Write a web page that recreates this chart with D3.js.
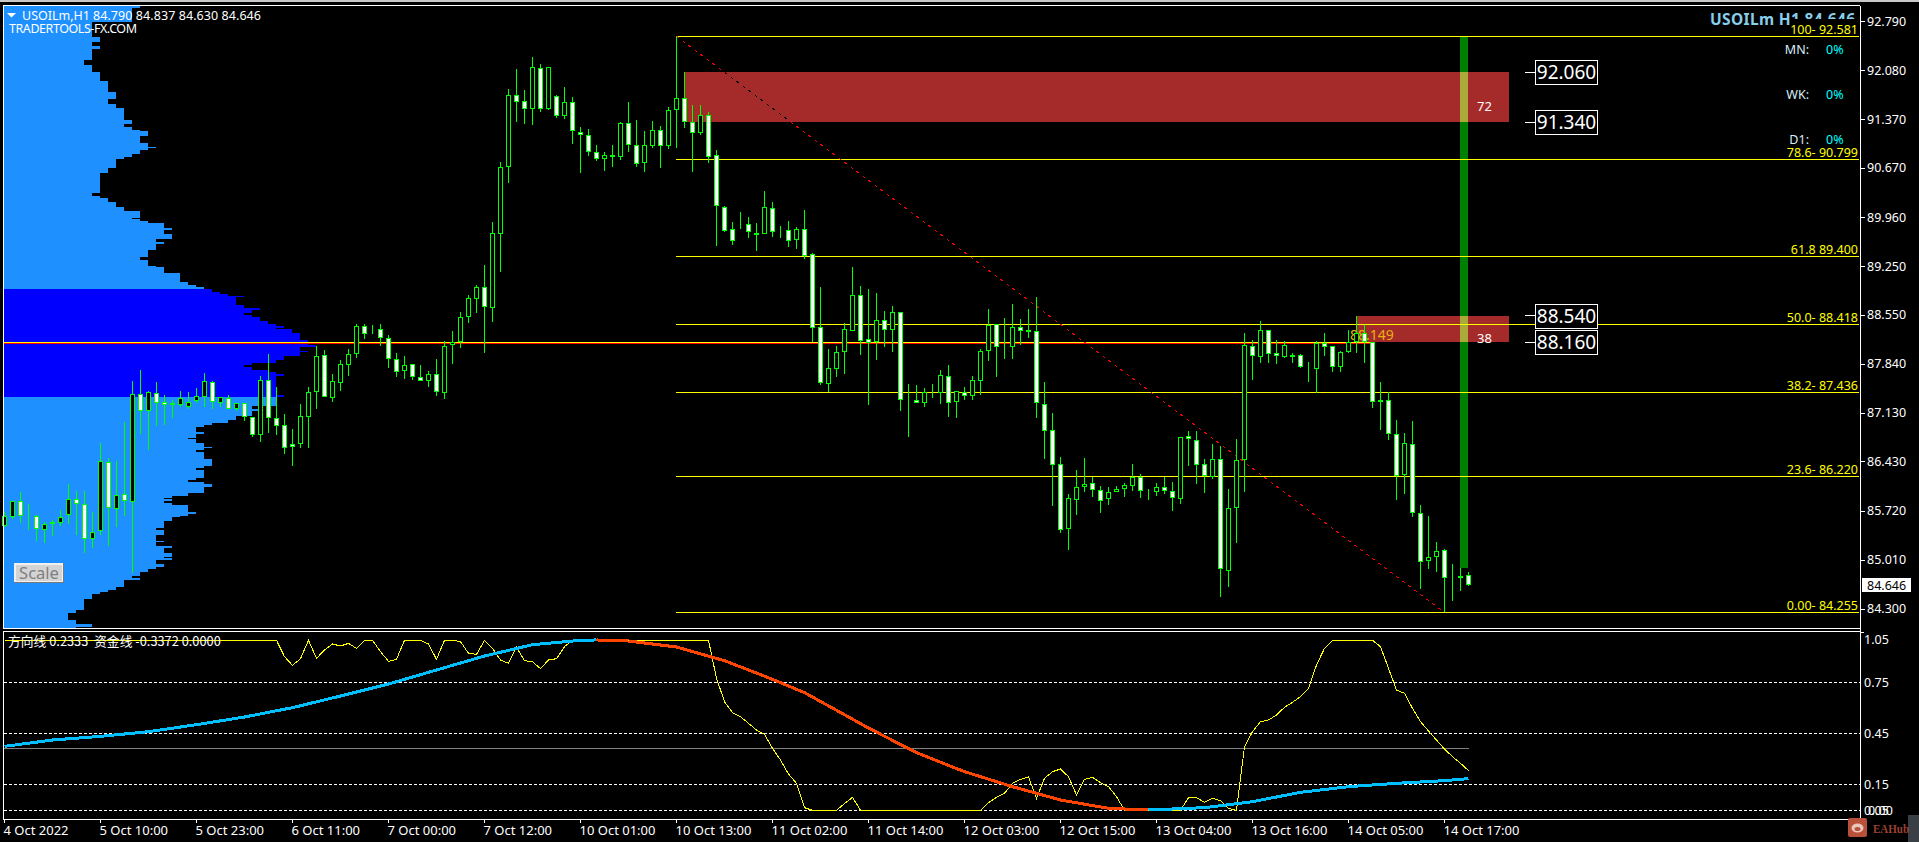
<!DOCTYPE html>
<html>
<head>
<meta charset="utf-8">
<style>
html,body{margin:0;padding:0;background:#000;overflow:hidden}
svg{display:block}
text{font-family:"Noto Sans",sans-serif;fill:#fff}
</style>
<script src="https://cdn.jsdelivr.net/npm/d3@7"></script>
</head>
<body>
<svg id="chart" width="1919" height="842"></svg>
<script>
const opens=[
85.507,85.627,85.859,85.651,85.651,85.439,85.555,85.541,85.656,85.897,
85.815,85.319,85.425,86.432,85.753,85.969,85.844,87.405,87.169,87.419,
87.289,87.275,87.251,87.227,87.304,87.371,87.578,87.284,87.357,87.198,
87.275,87.072,86.822,87.607,87.058,86.957,86.682,86.692,87.082,87.443,
87.968,87.357,87.573,87.833,87.992,88.387,88.339,88.344,88.214,87.911,
87.747,87.839,87.660,87.602,87.694,87.429,88.113,88.166,88.527,88.778,
88.951,88.648,89.717,90.685,91.735,91.639,91.524,92.116,91.533,91.711,
91.422,91.625,91.201,91.148,90.902,90.801,90.859,90.830,91.321,91.003,
90.743,90.998,91.220,90.989,91.509,91.683,91.336,91.177,91.437,90.859,
90.107,89.789,89.886,89.871,89.732,89.717,90.093,89.770,89.775,89.630,
89.790,89.428,88.373,87.559,87.776,88.012,88.325,88.836,88.200,88.157,
88.475,88.340,88.590,87.323,87.319,87.285,87.444,87.429,87.665,87.299,
87.434,87.386,87.603,88.027,88.417,88.104,88.094,88.373,88.330,88.316,
87.261,86.885,86.394,85.454,85.883,86.061,86.119,86.018,85.897,85.989,
86.032,86.076,86.206,85.999,85.989,86.061,86.004,85.888,86.798,86.740,
86.393,86.215,86.465,84.847,85.757,86.451,88.098,87.939,88.330,87.997,
87.939,87.939,87.968,87.785,87.766,88.142,88.098,87.795,88.012,88.156,
88.286,88.156,87.318,87.318,86.827,86.234,86.682,85.685,84.991,85.049,
85.150,84.755,84.746,84.790];
const highs=[
85.709,85.868,85.993,85.820,85.661,85.555,85.589,85.733,86.109,86.008,
86.008,85.704,86.697,86.480,86.437,87.010,87.597,87.756,87.458,87.583,
87.395,87.323,87.453,87.438,87.496,87.713,87.597,87.371,87.395,87.275,
87.275,87.082,87.670,87.988,87.506,87.121,86.899,87.265,87.506,88.103,
88.045,87.699,87.901,88.055,88.421,88.421,88.407,88.421,88.262,87.997,
87.959,87.839,87.829,87.742,87.916,88.171,88.320,88.590,88.836,88.980,
89.274,89.895,90.762,91.817,92.106,91.803,92.280,92.179,92.130,91.731,
91.846,91.702,91.263,91.239,91.008,90.907,91.008,91.340,91.630,91.369,
91.210,91.355,91.283,91.552,92.581,92.063,91.586,91.586,91.485,90.936,
90.127,89.895,90.040,89.968,89.881,90.343,90.184,89.838,89.910,89.823,
90.069,89.443,88.956,88.060,88.104,88.431,89.245,88.971,88.927,88.870,
88.609,88.682,88.590,87.555,87.540,87.497,87.555,87.757,87.829,87.449,
87.511,87.670,88.060,88.638,88.417,88.508,88.711,88.494,88.638,88.812,
87.583,87.135,86.500,85.965,86.312,86.485,86.211,86.076,86.066,86.076,
86.124,86.398,86.249,86.032,86.119,86.211,86.134,86.784,86.875,86.875,
86.470,86.692,86.658,86.037,86.759,88.291,88.190,88.465,88.330,88.190,
88.175,88.002,87.983,87.872,88.171,88.291,88.098,88.026,88.334,88.537,
88.407,88.156,87.583,87.434,87.034,86.846,87.019,85.805,85.647,85.271,
85.165,84.953,84.890,84.837];
const lows=[
85.492,85.603,85.550,85.444,85.290,85.261,85.358,85.502,85.531,85.372,
85.117,85.189,85.372,85.218,85.492,85.647,84.818,86.832,86.600,86.947,
86.962,87.068,87.227,87.193,87.275,87.217,87.193,87.217,87.188,87.164,
87.024,86.793,86.721,86.851,86.817,86.543,86.374,86.634,86.634,87.193,
87.371,87.299,87.453,87.670,87.930,88.204,88.277,88.108,87.790,87.660,
87.631,87.612,87.602,87.516,87.386,87.342,87.843,88.079,88.441,88.580,
88.007,88.455,89.178,90.464,91.345,91.316,91.302,91.490,91.514,91.403,
91.389,91.027,90.608,90.854,90.777,90.637,90.695,90.796,90.912,90.695,
90.623,90.970,90.681,90.955,90.970,91.259,90.623,91.157,90.753,89.553,
89.756,89.568,89.794,89.664,89.481,89.717,89.679,89.664,89.534,89.505,
89.361,88.157,87.545,87.439,87.661,87.699,88.325,87.974,87.256,87.901,
88.089,88.017,87.169,86.793,87.275,87.227,87.352,87.270,87.083,87.068,
87.328,87.328,87.400,87.887,87.661,87.916,87.916,88.118,88.219,87.068,
86.471,85.796,85.406,85.161,85.666,85.999,85.926,85.695,85.811,85.989,
85.926,86.013,85.912,85.883,85.941,85.970,85.724,85.825,86.374,86.114,
85.974,86.186,84.481,84.625,85.261,85.998,87.617,87.862,87.862,87.848,
87.925,87.862,87.790,87.588,87.429,87.964,87.732,87.732,87.997,87.997,
87.853,87.212,86.894,86.750,85.883,85.969,85.637,84.596,84.885,84.842,
84.255,84.423,84.568,84.630];
const closes=[
85.651,85.859,85.651,85.632,85.454,85.526,85.526,85.637,85.897,85.815,
85.309,85.420,86.446,85.757,85.955,85.859,87.405,87.159,87.434,87.275,
87.255,87.255,87.347,87.299,87.376,87.593,87.289,87.361,87.198,87.275,
87.082,86.822,87.607,87.058,86.952,86.634,86.648,87.087,87.434,87.954,
87.371,87.593,87.838,87.983,88.387,88.281,88.320,88.214,87.911,87.732,
87.824,87.660,87.602,87.694,87.444,88.099,88.166,88.518,88.792,88.951,
88.662,89.732,90.685,91.726,91.625,91.524,92.130,91.524,92.130,91.422,
91.625,91.206,91.148,90.902,90.801,90.859,90.830,91.321,91.003,90.729,
91.003,91.220,90.989,91.509,91.683,91.336,91.177,91.437,90.840,90.122,
89.770,89.616,89.866,89.746,89.712,90.107,89.746,89.751,89.626,89.789,
89.409,88.359,87.574,87.781,88.012,88.345,88.836,88.181,88.142,88.475,
88.330,88.590,87.328,87.304,87.275,87.434,87.425,87.680,87.285,87.449,
87.386,87.608,88.027,88.402,88.084,88.084,88.373,88.325,88.311,87.275,
86.871,86.379,85.440,85.902,86.061,86.105,86.018,85.859,85.989,86.032,
86.090,86.206,86.004,85.979,86.061,86.004,85.902,86.784,86.755,86.379,
86.220,86.465,84.876,85.757,86.451,88.113,87.954,88.330,87.983,87.954,
88.113,87.968,87.795,87.766,88.142,88.084,87.795,88.012,88.156,88.286,
88.156,87.289,87.299,86.827,86.220,86.697,85.685,84.977,85.049,85.136,
84.746,84.736,84.775,84.646];

const priceTicks=[92.79,92.08,91.37,90.67,89.96,89.25,88.55,87.84,87.13,86.43,85.72,85.01,84.3];
const dateBars=[0,12,24,36,48,60,72,84,96,108,120,132,144,156,168,180];
const dateLabels=["4 Oct 2022","5 Oct 10:00","5 Oct 23:00","6 Oct 11:00","7 Oct 00:00","7 Oct 12:00","10 Oct 01:00","10 Oct 13:00","11 Oct 02:00","11 Oct 14:00","12 Oct 03:00","12 Oct 15:00","13 Oct 04:00","13 Oct 16:00","14 Oct 05:00","14 Oct 17:00"];

const fibValues=[92.581,90.799,89.400,88.418,87.436,86.220,84.255];
const fibLabels=["100- 92.581","78.6- 90.799","61.8 89.400","50.0- 88.418","38.2- 87.436","23.6- 86.220","0.00- 84.255"];
const zonePrices=[[92.06,91.34],[88.54,88.16]];
const zoneStartBars=[85,169];
const zoneCounts=["72","38"];
const boxLabels=[92.06,91.34,88.54,88.16];
const pocPrice=88.149;
const greenBarBottom=84.897;
const timeframeNames=["MN:","WK:","D1:"];
const timeframeValues=["0%","0%","0%"];

/* volume profile, top to bottom: row height in ticks, and row count */
const profileSpans=[3,14,15,5,4,3,11,5,7,9,11,7,5,4,12,4,3,3,1,5,7,4,1,2,4,3,2,9,5,20,3,2,4,5,4,7,1,2,2,5,2,4,5,3,2,6,7,3,6,1,6,9,3,2,2,
3,2,2,1,8,3,2,3,2,2,4,3,2,2,1,4,7,5,2,4,1,4,4,3,2,2,3,2,2,2,19,2,
9,3,2,5,4,3,2,2,5,2,4,1,4,4,1,2,2,7,7,2,2,8,2,2,2,3,6,3,2,1,2,2,2,7,2,2,1,4,7,2,5,6,1,4,2,5,4,1,2,4,3,2,3,4,2,2,7,3,2,2,5,11,3,7,4,3,1];
const profileCounts=[17,16,11,12,11,12,11,10,11,12,13,14,13,14,15,16,15,16,17,18,17,18,19,18,17,16,15,14,13,12,11,12,13,14,15,17,16,17,18,20,21,20,21,19,20,19,18,17,18,19,20,22,23,24,25,
26,27,28,30,29,30,32,31,30,31,32,33,34,35,34,36,37,38,39,37,38,37,35,34,31,30,31,33,34,35,34,35,
34,31,32,31,29,28,26,25,24,25,24,23,24,25,26,25,24,25,26,25,24,25,24,23,25,26,25,23,21,20,21,20,21,23,24,23,22,21,20,19,20,19,20,19,21,20,21,20,21,19,20,19,18,17,16,17,15,14,13,12,11,10,9,8,9,11,9];
const profileTop=93.031, profileTick=1/69.21;
const valueAreaHigh=88.927, valueAreaLow=87.367;

/* indicator pane */
const directionBars=[0,34,35,36,37,38,39,40,41,42,43,44,45,46,47,48,49,50,52,53,54,55,56,57,58,59,60,61,62,63,64,65,66,67,68,69,70,71,88,89,90,91,92,93,94,95,96,97,98,99,100,101,104,105,106,107,122,123,124,125,126,127,128,129,130,131,132,133,134,135,136,137,138,139,140,147,148,149,150,151,152,153,154,155,156,157,158,159,160,161,162,163,164,165,166,171,172,173,174,175,176,177,178,179,180,181,182,183];
const directionValues=[1,1,.9037,.8527,.8919,1,.8939,.9429,.9782,.9665,.9821,.9527,1,1,.9331,.8763,.888,1,1,.9782,.888,1,1,.9919,.9233,.9174,1,.9527,.8841,.8645,.9586,.8802,.8743,.8331,.8841,.8919,.9625,1,1,.7763,.639,.5743,.5508,.5116,.4723,.4469,.3645,.2959,.2135,.1586,.0155,0,0,.039,.0763,0,0,.0449,.0763,.1,.1586,.1821,.1959,.0704,.188,.2272,.2429,.1978,.09,.1821,.1939,.1625,.139,.0802,0,0,.0743,.0743,.0469,.0704,.0567,.0116,0,.3743,.4625,.5214,.5312,.5606,.6057,.6351,.6684,.7174,.8547,.9527,1,1,.9625,.8351,.7076,.688,.5998,.5214,.4665,.4135,.3606,.3155,.2763,.2333];
const flowBars=[0,6,12,18,24,30,36,42,48,54,60,66,72,74,78,84,90,96,100,105,108,114,120,126,132,138,143,150,156,162,168,174,180,183];
const flowValues=[.376,.4135,.435,.4625,.5037,.5488,.6037,.6723,.7429,.8253,.9076,.9743,1,1.002,.9959,.9606,.8802,.7704,.692,.5625,.4841,.339,.2272,.139,.0606,.0116,.0018,.0155,.0508,.1057,.139,.1586,.1743,.1861];
const grayLevel=.365;
const subLevels=[.75,.45,.15,0];

const svg=d3.select("#chart");
const x=d3.scaleLinear().domain([0,183]).range([4.5,1468.5]);
const y=d3.scaleLinear().domain([84.3,92.79]).range([609.3,21.7]);
const sub=d3.scaleLinear().domain([0,1]).range([810.3,640.3]);
const px=d3.scaleLinear().domain([0,1]).range([4,12]);
const row=v=>Math.round(y(v));
const lineY=v=>Math.floor(y(v))+.5;
const crisp="crispEdges";

/* window chrome */
svg.append("rect").attr("x",0).attr("y",0).attr("width",1919).attr("height",2).attr("fill","#c8c8c8");
svg.append("rect").attr("x",1908).attr("y",815).attr("width",11).attr("height",27).attr("fill","#3a3f45");

/* volume profile */
const gProfile=svg.append("g").attr("shape-rendering",crisp);
let edge=profileTop;
profileSpans.forEach((s,i)=>{
  const bottom=edge-s*profileTick, mid=(edge+bottom)/2;
  gProfile.append("rect").attr("x",px(0)).attr("width",px(profileCounts[i])-px(0))
    .attr("y",row(edge)).attr("height",Math.max(row(bottom)-row(edge),1))
    .attr("fill",(mid<=valueAreaHigh&&mid>=valueAreaLow)?"#0000ff":"#1e90ff");
  edge=bottom;
});

/* zones */
const zoneRight=x(188);
const gZones=svg.append("g").attr("shape-rendering",crisp);
zonePrices.forEach((z,i)=>{
  gZones.append("rect").attr("x",x(zoneStartBars[i])).attr("width",zoneRight-x(zoneStartBars[i]))
    .attr("y",y(z[0])).attr("height",y(z[1])-y(z[0])).attr("fill","#a52a2a");
});
/* green bar */
const gbL=x(182)-.5,gbR=gbL+8;
gZones.append("rect").attr("x",gbL).attr("width",gbR-gbL).attr("y",y(fibValues[0])).attr("height",y(greenBarBottom)-y(fibValues[0])).attr("fill","#008000");
zonePrices.forEach(z=>{
  gZones.append("rect").attr("x",gbL).attr("width",gbR-gbL).attr("y",y(z[0])).attr("height",y(z[1])-y(z[0])).attr("fill","#aaaa3a");
});

/* fib lines */
const fibLeft=x(84)-.5, fibRight=1859;
const gFib=svg.append("g");
fibValues.forEach((v,i)=>{
  gFib.append("line").attr("x1",fibLeft).attr("x2",fibRight).attr("y1",lineY(v)).attr("y2",lineY(v)).attr("stroke","#ffff00").attr("shape-rendering",crisp);
  if(i===0){
    svg.append("text").attr("x",1855).attr("y",25).attr("text-anchor","end").attr("font-weight",700).attr("font-size",15.5).style("fill","#87ceeb").attr("textLength",145).text("USOILm H1 84.646");
    svg.append("rect").attr("x",1794).attr("y",19).attr("width",65).attr("height",17).attr("fill","#000");
  }
  svg.append("text").attr("x",1858).attr("y",lineY(v)-3).attr("text-anchor","end").attr("font-size",12.5).style("fill","#ffff00").text(fibLabels[i]);
});

/* POC line */
const pocEnd=x(171)-.5;
svg.append("line").attr("x1",4).attr("x2",pocEnd).attr("y1",row(pocPrice)+.5).attr("y2",row(pocPrice)+.5).attr("stroke","#ff0000").attr("shape-rendering",crisp);
svg.append("line").attr("x1",4).attr("x2",pocEnd).attr("y1",row(pocPrice)-.5).attr("y2",row(pocPrice)-.5).attr("stroke","#ffff00").attr("shape-rendering",crisp);
svg.append("text").attr("x",1350).attr("y",340).attr("font-size",14).style("fill","#e8b010").text("88.149");

/* diagonal */
const diag=[[84,fibValues[0]],[180,fibValues[6]]];
const diagLine=d3.line().x(d=>x(d[0])).y(d=>y(d[1]));
svg.append("path").attr("d",diagLine(diag)).attr("stroke","#ff0000").attr("fill","none").attr("stroke-dasharray","3,4.5").attr("shape-rendering",crisp);
svg.append("clipPath").attr("id","zoneClip").append("rect").attr("x",725).attr("y",y(zonePrices[0][0])).attr("width",62).attr("height",y(zonePrices[0][1])-y(zonePrices[0][0]));
svg.append("path").attr("d",diagLine(diag)).attr("stroke","#000").attr("fill","none").attr("stroke-dasharray","3,4.5").attr("shape-rendering",crisp).attr("clip-path","url(#zoneClip)");

/* candles */
const gC=svg.append("g").attr("shape-rendering",crisp);
opens.forEach((o,i)=>{
  const c=closes[i], cx=x(i);
  gC.append("line").attr("x1",cx).attr("x2",cx).attr("y1",row(highs[i])).attr("y2",row(lows[i])).attr("stroke","#00ff00");
  const t=row(Math.max(o,c)), b=row(Math.min(o,c));
  gC.append("rect").attr("x",cx-2).attr("width",4).attr("y",t+.5).attr("height",Math.max(b-t-1,0))
    .attr("fill",c<o?"#ffffff":"#000000").attr("stroke","#00ff00");
});

/* boxed levels */
boxLabels.forEach(v=>{
  const cy=y(v);
  svg.append("line").attr("x1",1525).attr("x2",1535).attr("y1",Math.floor(cy)+.5).attr("y2",Math.floor(cy)+.5).attr("stroke","#fff").attr("shape-rendering",crisp);
  svg.append("rect").attr("x",1535.5).attr("y",Math.round(cy)-11.5).attr("width",62).attr("height",24).attr("fill","#000").attr("stroke","#fff").attr("shape-rendering",crisp);
  svg.append("text").attr("x",1566.5).attr("y",Math.round(cy)+7).attr("text-anchor","middle").attr("font-size",19).text(d3.format(".3f")(v));
});
zoneCounts.forEach((t,i)=>{
  svg.append("text").attr("x",1484.5).attr("y",y(zonePrices[i][1])+(i?1:-11)).attr("text-anchor","middle").attr("font-size",13).text(t);
});

/* timeframe table */
timeframeNames.forEach((n,i)=>{
  const ty=54+45*i;
  svg.append("text").attr("x",1809).attr("y",ty).attr("text-anchor","end").attr("font-size",12.5).style("fill","#d8eefa").text(n);
  svg.append("text").attr("x",1826).attr("y",ty).attr("font-size",12.5).style("fill","#00ffff").text(timeframeValues[i]);
});

/* top-left */
svg.append("path").attr("d",d3.line()([[7,13],[16,13],[11.5,17.5]])+"Z").attr("fill","#fff");
svg.append("text").attr("x",22).attr("y",20).attr("font-size",12.5).text("USOILm,H1");
svg.append("text").attr("x",93).attr("y",20).attr("font-size",12.5).attr("textLength",168).text("84.790 84.837 84.630 84.646");
svg.append("text").attr("x",9).attr("y",33).attr("font-size",12.5).attr("textLength",128).text("TRADERTOOLS-FX.COM");

/* scale button */
const btn=svg.append("g").attr("shape-rendering",crisp);
btn.append("rect").attr("x",14).attr("y",563).attr("width",50).attr("height",20).attr("fill","#787878");
btn.append("rect").attr("x",14).attr("y",563).attr("width",49).attr("height",19).attr("fill","#f0f0f0");
btn.append("rect").attr("x",16).attr("y",565).attr("width",46).attr("height",16).attr("fill","#d4d4d4");
svg.append("text").attr("x",39).attr("y",578.5).attr("text-anchor","middle").attr("font-size",16.5).style("fill","#808080").text("Scale");

/* frames */
const gF=svg.append("g").attr("stroke","#fff").attr("shape-rendering",crisp);
[[3,5,1860,5],[3,5,3,628],[3,628,1860,628],[3,631,1860,631],[3,631,3,819],[3,819,1860,819],[1860.5,5,1860.5,819]].forEach(l=>{
  gF.append("line").attr("x1",l[0]).attr("y1",l[1]+.5).attr("x2",l[2]).attr("y2",l[3]+.5);
});

/* axes */
const yAxis=d3.axisRight(y).tickValues(priceTicks).tickFormat(d3.format(".3f")).tickSize(4).tickPadding(2).offset(0);
const gy=svg.append("g").attr("transform","translate(1861,0)").call(yAxis);
const xAxis=d3.axisBottom(x).tickValues(dateBars).tickFormat((d,i)=>dateLabels[i]).tickSize(3).offset(0);
const gx=svg.append("g").attr("transform","translate(0,819.5)").call(xAxis);
const sAxis=d3.axisRight(sub).tickValues([.75,.45,.15]).tickFormat(d3.format(".2f")).tickSize(0).tickPadding(3).offset(0);
const gs=svg.append("g").attr("transform","translate(1861,0)").call(sAxis);
[gy,gx,gs].forEach(g=>{
  g.select(".domain").remove();
  g.selectAll("line").attr("stroke","#fff").attr("shape-rendering",crisp);
  g.selectAll("text").attr("font-size",12.5).attr("font-family",null).style("fill","#fff");
  g.attr("font-family",null).attr("font-size",null);
});
gx.selectAll("text").attr("text-anchor","start").attr("x",-1).attr("y",15.5).attr("dy",0).attr("font-size",13);
svg.append("text").attr("x",1864).attr("y",643.5).attr("font-size",12.5).text("1.05");
svg.append("text").attr("x",1864).attr("y",815).attr("font-size",12.5).text("0.05");
svg.append("text").attr("x",1868).attr("y",815).attr("font-size",12.5).text("0.00");
svg.append("line").attr("x1",1861).attr("x2",1864).attr("y1",632.5).attr("y2",632.5).attr("stroke","#fff").attr("shape-rendering",crisp);

/* price tag */
svg.append("rect").attr("x",1862).attr("y",578).attr("width",49).attr("height",14).attr("fill","#fff");
svg.append("text").attr("x",1867).attr("y",590).attr("font-size",12.5).style("fill","#000").text("84.646");

/* indicator */
subLevels.forEach(v=>{
  svg.append("line").attr("x1",4).attr("x2",1860).attr("y1",Math.floor(sub(v))+.5).attr("y2",Math.floor(sub(v))+.5).attr("stroke","#fff").attr("stroke-dasharray","3,2").attr("shape-rendering",crisp);
});
svg.append("line").attr("x1",4).attr("x2",x(183)).attr("y1",Math.floor(sub(grayLevel))+.5).attr("y2",Math.floor(sub(grayLevel))+.5).attr("stroke","#808080").attr("shape-rendering",crisp);
const subLine=d3.line().x(d=>x(d[0])).y(d=>sub(d[1]));
svg.append("path").attr("d",subLine(directionBars.map((b,i)=>[b,directionValues[i]]))).attr("fill","none").attr("stroke","#ffff00").attr("stroke-width",1).attr("shape-rendering",crisp);
flowBars.slice(1).forEach((b,i)=>{
  const a=[flowBars[i],flowValues[i]], e=[b,flowValues[i+1]];
  svg.append("path").attr("d",subLine([a,e])).attr("fill","none").attr("stroke",e[1]>=a[1]?"#00bfff":"#ff4500").attr("stroke-width",3).attr("shape-rendering",crisp);
});
svg.append("text").attr("x",8).attr("y",646).attr("font-size",12.8).style("font-family",'"Noto Sans CJK SC","Noto Sans",sans-serif').attr("xml:space","preserve").text("方向线 0.2333  资金线 -0.3372 0.0000");

/* watermark */
svg.append("rect").attr("x",1848).attr("y",818).attr("width",19).attr("height",19).attr("rx",2).attr("fill","#b8503a");
svg.append("ellipse").attr("cx",1857.5).attr("cy",828).attr("rx",6).attr("ry",4.5).attr("fill","#e8c8b8");
svg.append("ellipse").attr("cx",1857.5).attr("cy",829).attr("rx",3).attr("ry",2).attr("fill","#b8503a");
svg.append("text").attr("x",1873).attr("y",832.5).attr("font-size",13).attr("font-weight",700).attr("textLength",36).attr("lengthAdjust","spacingAndGlyphs").style("font-family",'"Liberation Serif",serif').style("fill","#9a4030").text("EAHub");
</script>
</body>
</html>
